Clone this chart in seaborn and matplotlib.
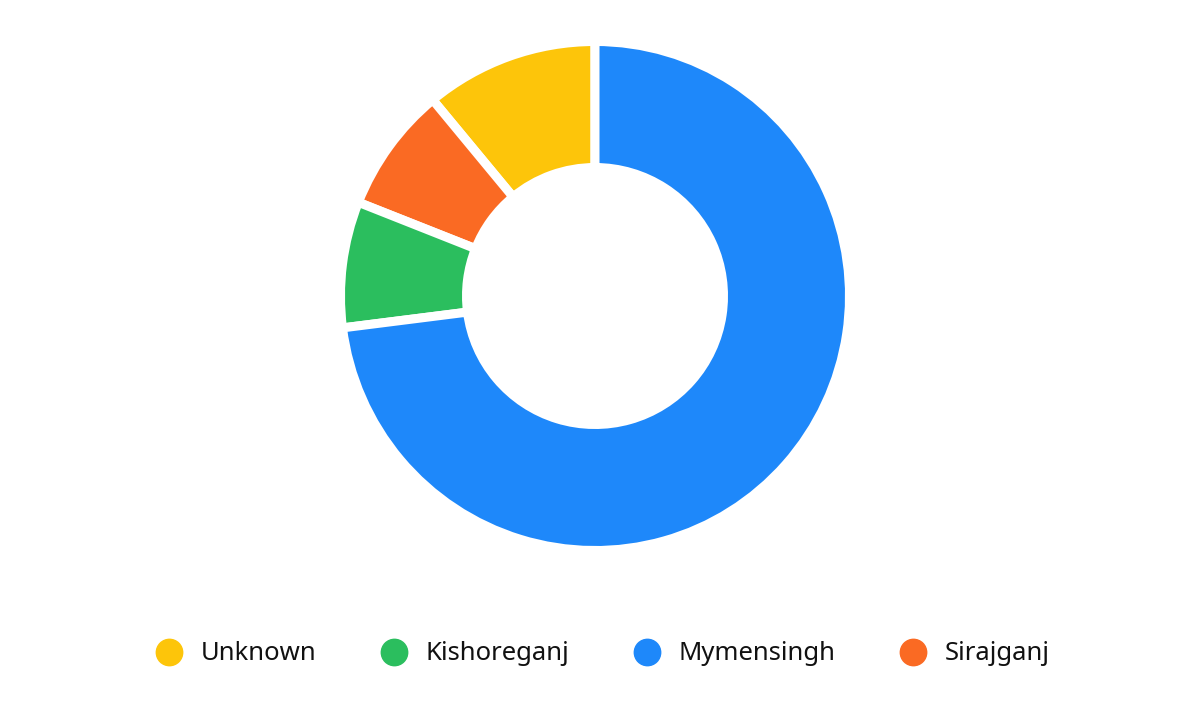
import matplotlib
matplotlib.use("Agg")
import matplotlib.pyplot as plt
from matplotlib.lines import Line2D
import seaborn as sns

# Data (percent shares)
pie_order = ["Unknown", "Sirajganj", "Kishoreganj", "Mymensingh"]
pie_values = [11, 8, 8, 73]
legend_order = ["Unknown", "Kishoreganj", "Mymensingh", "Sirajganj"]
colors = {
    "Unknown": "#FDC50A",
    "Kishoreganj": "#2BBE5E",
    "Mymensingh": "#1E88FA",
    "Sirajganj": "#FA6A23",
}

sns.set_theme(style="white")
plt.rcParams["font.family"] = ["Noto Sans", "DejaVu Sans"]

W, H = 1199, 713
fig = plt.figure(figsize=(W / 100, H / 100), dpi=100)
fig.patch.set_facecolor("white")

cx, cy, half = 595, 296, 275
ax = fig.add_axes([(cx - half) / W, (H - cy - half) / H, 2 * half / W, 2 * half / H])
ax.set_xlim(-1.1, 1.1)
ax.set_ylim(-1.1, 1.1)
ax.set_aspect("equal")
ax.axis("off")

gap_px = 9
unit = 250.0
lw_pt = gap_px * 72 / 100
outer = 1 + (gap_px / 2) / unit
inner = (133 - gap_px / 2) / unit
ax.pie(
    pie_values,
    colors=[colors[k] for k in pie_order],
    startangle=90,
    counterclock=True,
    radius=outer,
    wedgeprops=dict(width=outer - inner, edgecolor="white", linewidth=lw_pt),
)
ax.set_xlim(-1.1, 1.1)
ax.set_ylim(-1.1, 1.1)

handles = [
    Line2D([0], [0], marker="o", linestyle="none", markersize=19,
           markerfacecolor=colors[k], markeredgecolor=colors[k])
    for k in legend_order
]
fig.legend(
    handles, legend_order,
    loc="center", bbox_to_anchor=(0.503, 1 - 654 / H),
    ncol=4, frameon=False, fontsize=18.5,
    handlelength=1.0, handletextpad=0.75, columnspacing=2.5,
    labelcolor="#111111",
)

fig.savefig("out.png", dpi=100, facecolor="white")
